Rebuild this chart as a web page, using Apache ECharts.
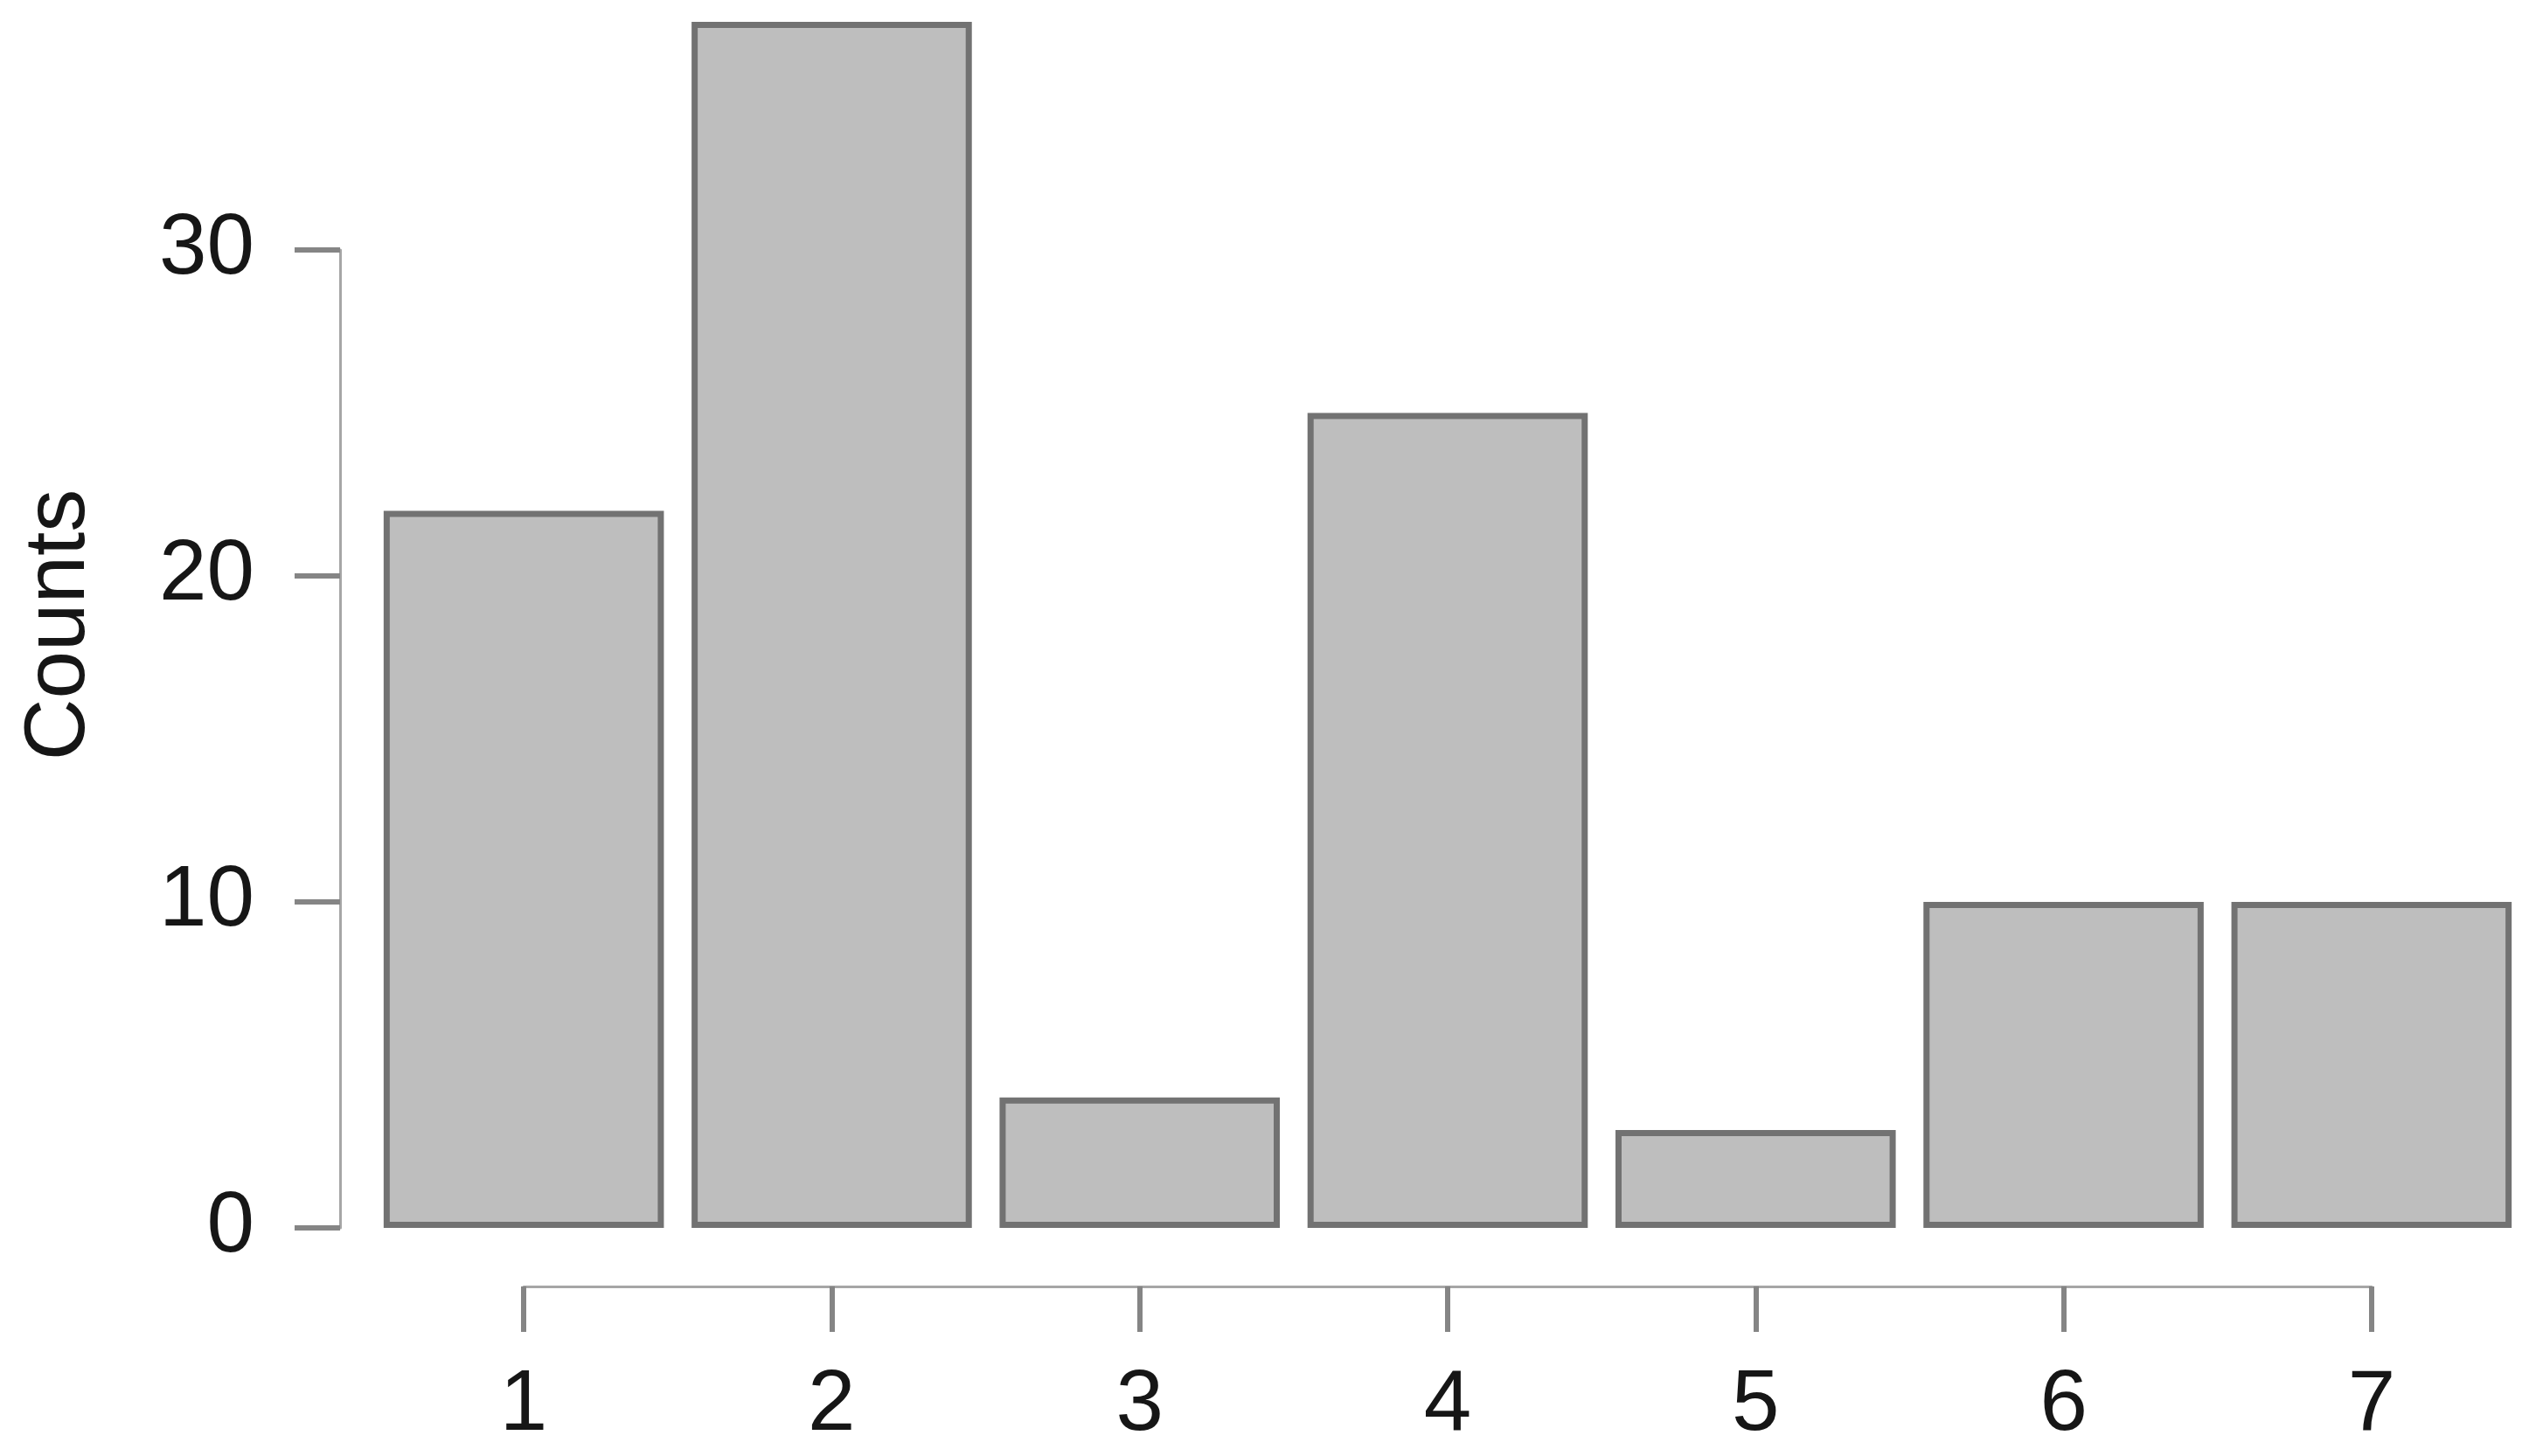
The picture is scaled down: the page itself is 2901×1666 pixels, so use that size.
<!DOCTYPE html>
<html>
<head>
<meta charset="utf-8">
<script src="https://cdn.jsdelivr.net/npm/echarts@6/dist/echarts.min.js"></script>
<style>
html,body{margin:0;padding:0;background:#fff;}
#chart{width:2901px;height:1666px;}
</style>
</head>
<body>
<div id="chart"></div>
<script>
const categories = ['1','2','3','4','5','6','7'];
const counts = [22, 37, 4, 25, 3, 10, 10];
const yTicks = [0, 10, 20, 30];
const yAxisName = 'Counts';

const FONT = 'Liberation Sans, Arial, Helvetica, sans-serif';
const chart = echarts.init(document.getElementById('chart'));
chart.setOption({
  backgroundColor: '#ffffff',
  animation: false,
  grid: [
    {left: 423, right: 12, top: 25, bottom: 261},
    {left: 389, width: 1, top: 286, bottom: 261},
    {left: 599, right: 188, top: 1300, bottom: 194}
  ],
  xAxis: [
    {gridIndex: 0, type: 'category', data: categories, show: false},
    {gridIndex: 1, type: 'value', show: false},
    {gridIndex: 2, type: 'category', data: categories, boundaryGap: false,
     axisLine: {show: true, lineStyle: {color: '#a6a6a6', width: 3}},
     axisTick: {show: true, length: 52, alignWithLabel: true, lineStyle: {color: '#858585', width: 6}},
     axisLabel: {show: true, margin: 88, fontSize: 98, fontFamily: FONT, color: '#161616'},
     splitLine: {show: false}}
  ],
  yAxis: [
    {gridIndex: 0, type: 'value', min: 0, max: 37,
     axisLine: {show: false}, axisTick: {show: false}, axisLabel: {show: false}, splitLine: {show: false},
     name: yAxisName, nameLocation: 'middle', nameGap: 305,
     nameTextStyle: {fontSize: 98, fontFamily: FONT, color: '#161616'}},
    {gridIndex: 1, type: 'value', min: yTicks[0], max: yTicks[yTicks.length-1], interval: 10,
     axisLine: {show: true, lineStyle: {color: '#a6a6a6', width: 3}},
     axisTick: {show: true, length: 52, lineStyle: {color: '#858585', width: 6}},
     axisLabel: {show: true, margin: 98, fontSize: 98, fontFamily: FONT, color: '#161616'},
     splitLine: {show: false}},
    {gridIndex: 2, type: 'value', show: false}
  ],
  series: [{
    type: 'bar',
    xAxisIndex: 0, yAxisIndex: 0,
    data: counts,
    barCategoryGap: '9%',
    itemStyle: {color: '#bebebe', borderColor: '#727272', borderWidth: 7}
  }]
});
</script>
</body>
</html>
